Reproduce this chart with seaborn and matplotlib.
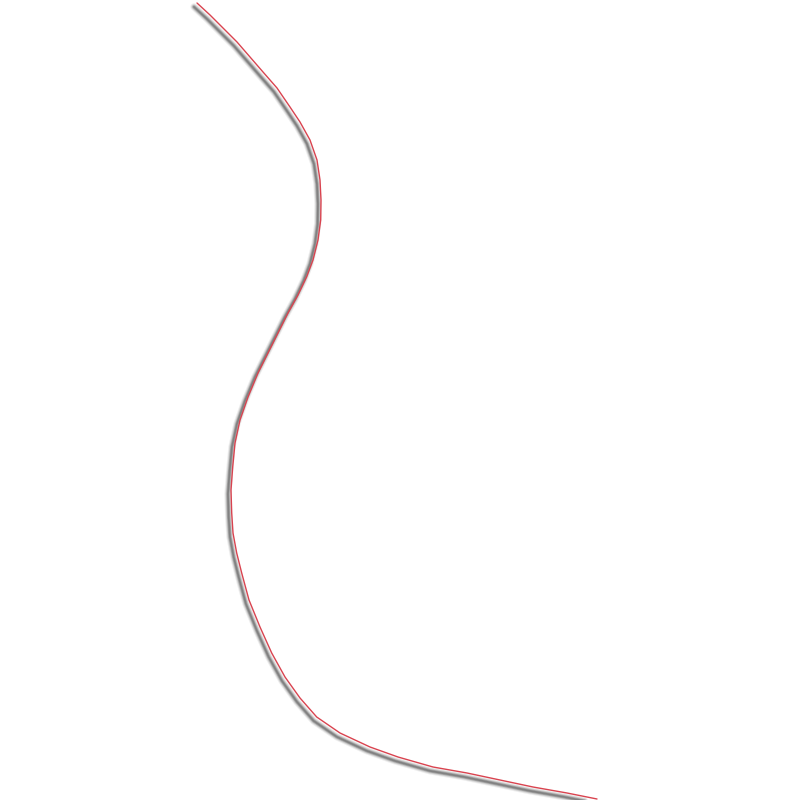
import numpy as np
import pandas as pd
import matplotlib
matplotlib.use('Agg')
import matplotlib.pyplot as plt
import matplotlib.patheffects as pe
import seaborn as sns

sns.set_style('white')

# curve (pixel-like units, y grows downward)
curve_x = [197, 210, 223, 237, 250, 263, 277, 290, 300, 310, 317, 320, 321,
           320.7, 318, 313, 306.7, 298, 288, 278, 268, 258, 248,
           240, 235, 232.7, 231, 231.7, 233, 236.7, 241.7, 249,
           260, 271.7, 285, 300, 316.7, 340, 370, 398, 433, 467, 500, 533, 567, 597]
curve_y = [3, 15, 28, 42, 57, 72, 88, 107, 122, 140, 160, 180, 200,
           220, 240, 260, 276.7, 295, 313, 333, 353, 373, 397,
           420, 443, 467, 490, 513, 533, 553, 573, 600,
           627, 653, 677, 698, 717, 733, 747, 757, 767, 773, 780, 787, 793, 799]

df = pd.DataFrame({'x': curve_x, 'y': curve_y})

fig = plt.figure(figsize=(8, 8), dpi=100)
ax = fig.add_axes([0, 0, 1, 1])

off = (-2.2, -2.8)
shadow = [
    pe.SimpleLineShadow(offset=off, shadow_color='#000000', alpha=0.07, linewidth=5.2),
    pe.SimpleLineShadow(offset=off, shadow_color='#000000', alpha=0.12, linewidth=3.8),
    pe.SimpleLineShadow(offset=off, shadow_color='#000000', alpha=0.22, linewidth=2.4),
    pe.SimpleLineShadow(offset=off, shadow_color='#000000', alpha=0.2, linewidth=1.2),
    pe.Normal(),
]

sns.lineplot(data=df, x='x', y='y', sort=False, estimator=None, ax=ax,
             color='#d9434f', linewidth=1.0, path_effects=shadow)

ax.set_xlim(0, 800)
ax.set_ylim(800, 0)
ax.axis('off')

fig.savefig('out.png', dpi=100)
